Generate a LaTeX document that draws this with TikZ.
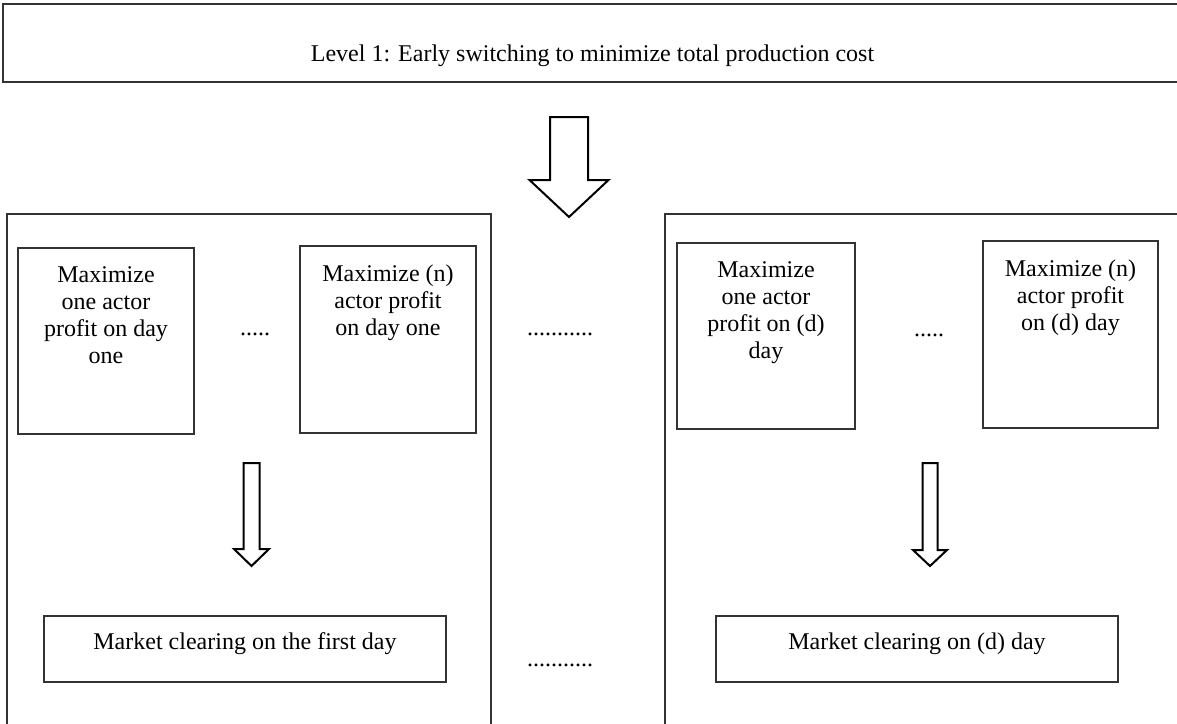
\documentclass[tikz,border=0pt]{standalone}
\usepackage{fontspec}
\setmainfont{Liberation Serif}
\usetikzlibrary{calc}
\tikzset{
    box/.style={rectangle, draw=black!80, line width=0.8pt, inner sep=0pt},
    frame/.style={box, minimum height=273pt},
    task/.style={box, minimum width=88pt, minimum height=93pt},
    clearing/.style={box, minimum width=201pt, minimum height=33pt},
    boxtxt/.style={anchor=north, align=center, inner sep=0pt, font=\fontsize{12}{13.5}\selectfont},
    dots/.style={anchor=base, inner sep=0pt, font=\fontsize{12}{13.5}\selectfont},
    blk/.style={draw=black, line width=1pt, fill=white, line join=miter},
}
% block arrow pointing down: top coordinate, length, head length, half shaft, half head
\newcommand{\downblock}[5]{%
  \draw[blk] ($(#1)+(-#4,0)$) -- ($(#1)+(#4,0)$) -- ($(#1)+(#4,#2-#3)$) -- ($(#1)+(#5,#2-#3)$)
    -- ($(#1)+(0,#2)$) -- ($(#1)+(-#5,#2-#3)$) -- ($(#1)+(-#4,#2-#3)$) -- cycle;}
\begin{document}
\begin{tikzpicture}[x=0.5pt, y=-0.5pt]
    \useasboundingbox (0,0) rectangle (1177,723);
    \clip (0,0) rectangle (1177,723);

    % Level 1
    \node[box, minimum width=589.5pt, minimum height=39pt,
          label={[boxtxt, yshift=-20.5pt]north:Level 1: Early switching to minimize total production cost}]
          (level) at (592.5,43) {};

    % Day frames
    \node[frame, minimum width=242pt] (dayone) at (249,487) {};
    \node[frame, minimum width=262.5pt] (dayd) at (927.5,487) {};

    % Actor problems
    \node[task, label={[boxtxt, yshift=-9.5pt]north:{Maximize\\one actor\\profit on day\\one}}]
          (actA) at (106,341) {};
    \node[task, minimum height=93.5pt, label={[boxtxt, yshift=-9.5pt]north:{Maximize (n)\\actor profit\\on day one}}]
          (actB) at (388,339.5) {};
    \node[task, minimum width=89pt, label={[boxtxt, yshift=-9.5pt]north:{Maximize\\one actor\\profit on (d)\\day}}]
          (actC) at (766,336) {};
    \node[task, minimum width=87.5pt, minimum height=93.5pt, label={[boxtxt, yshift=-9.5pt]north:{Maximize (n)\\actor profit\\on (d) day}}]
          (actD) at (1070.5,334.5) {};

    % Market clearing
    \node[clearing, label={[boxtxt, yshift=-8.5pt]north:Market clearing on the first day}]
          (mktone) at (245,649) {};
    \node[clearing, label={[boxtxt, yshift=-8.5pt]north:Market clearing on (d) day}]
          (mktd) at (917,649) {};

    % Dots
    \node[dots] (gapA) at (255,335) {.....};
    \node[dots] (gapB) at (929,336) {.....};
    \node[dots] (gapC) at (560,335) {...........};
    \node[dots] (gapD) at (560,666) {...........};

    % Block arrows
    \coordinate (top) at (569,117);
    \coordinate (leftdn) at (251.5,463);
    \coordinate (rightdn) at (930,463);
    \downblock{top}{100}{37}{19}{39.5}
    \downblock{leftdn}{103}{17}{8}{17.5}
    \downblock{rightdn}{103}{16}{7.5}{17}
\end{tikzpicture}
\end{document}
